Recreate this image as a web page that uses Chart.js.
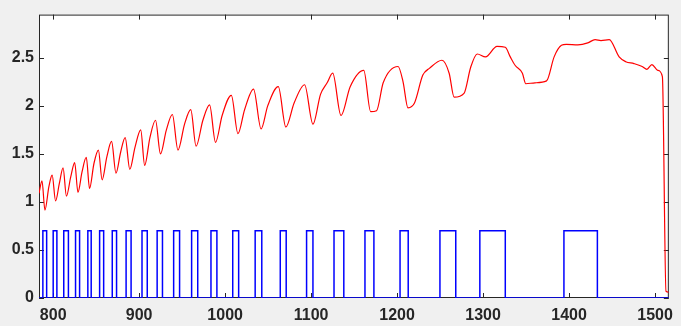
<!DOCTYPE html>
<html>
<head>
<meta charset="utf-8">
<script src="https://cdn.jsdelivr.net/npm/chart.js@4"></script>
<style>
  html, body { margin: 0; padding: 0; background: #f0f0f0; }
  canvas { display: block; }
</style>
</head>
<body>
<canvas id="chart" width="681" height="326"></canvas>
<script>
const xTickValues = [800, 900, 1000, 1100, 1200, 1300, 1400, 1500];
const xTickLabels = ["800", "900", "1000", "1100", "1200", "1300", "1400", "1500"];
const yTickValues = [0, 0.5, 1, 1.5, 2, 2.5];
const yTickLabels = ["0", "0.5", "1", "1.5", "2", "2.5"];

// red trace
const redX = [783.5, 787.0, 790.4, 795.0, 798.8, 802.8, 807.1, 811.5, 815.4, 820.4,
  825.0, 828.8, 833.6, 838.5, 842.3, 847.4, 852.6, 856.9, 862.4, 867.9,
  873.0, 878.5, 883.7, 889.1, 895.2, 901.8, 906.4, 912.5, 919.0, 924.8,
  931.5, 938.6, 945.1, 952.8, 960.0, 966.2, 974.1, 981.9, 988.8, 996.5,
  1007.2, 1014.9, 1022.6, 1033.0, 1041.8, 1049.5, 1061.8, 1070.6, 1080.2, 1092.4,
  1102.1, 1110.9, 1118.6, 1125.1, 1134.7, 1145.4, 1161.2, 1169.2, 1176.1, 1183.8,
  1201.1, 1206.9, 1212.6, 1220.2, 1229.9, 1237.5, 1252.1, 1260.5, 1266.3, 1277.8,
  1285.5, 1293.2, 1302.8, 1316.2, 1325.8, 1331.6, 1337.4, 1345.7, 1349.6, 1360.3,
  1373.8, 1382.6, 1391.1, 1396.8, 1410.2, 1421.7, 1430.2, 1437.1, 1446.7, 1458.2,
  1465.9, 1475.4, 1485.0, 1490.5, 1496.3, 1503.1, 1508.5, 1512.7, 1515.8];
const redY = [1.09, 1.22, 0.915, 1.16, 1.28, 1.01, 1.19, 1.355, 1.06, 1.26,
  1.41, 1.10, 1.315, 1.465, 1.14, 1.40, 1.54, 1.23, 1.47, 1.63,
  1.30, 1.52, 1.67, 1.34, 1.57, 1.75, 1.38, 1.67, 1.85, 1.50,
  1.745, 1.91, 1.54, 1.81, 1.96, 1.58, 1.85, 2.01, 1.62, 1.90,
  2.11, 1.71, 1.96, 2.175, 1.76, 2.00, 2.20, 1.78, 2.03, 2.22,
  1.81, 2.12, 2.24, 2.34, 1.90, 2.20, 2.37, 1.94, 1.95, 2.24,
  2.41, 2.25, 1.98, 2.03, 2.32, 2.39, 2.475, 2.34, 2.09, 2.13,
  2.40, 2.54, 2.51, 2.62, 2.61, 2.51, 2.42, 2.34, 2.23, 2.24,
  2.26, 2.51, 2.63, 2.64, 2.635, 2.655, 2.69, 2.68, 2.69, 2.51,
  2.46, 2.44, 2.41, 2.38, 2.43, 2.37, 2.305, 0.07, 0.06];

// blue pulse train
const pulseOn = [788, 800, 812.3, 826, 840.3, 854, 868.7, 884.8, 903.3, 920.9,
  940.1, 961, 983.5, 1008.8, 1034.9, 1064.1, 1094.7, 1126.6, 1162.6, 1203.4,
  1249.8, 1296.2, 1394];
const pulseOff = [792.4, 804.3, 817.7, 830.7, 844.2, 858.7, 873.7, 890.6, 909.4, 927.1,
  947, 968.1, 990.4, 1015.7, 1042.6, 1071, 1102.1, 1138, 1173, 1212.9,
  1268.2, 1325.8, 1432.9];
const pulseLevel = 0.7;
const xMin = 783.5, xMax = 1516, yMin = 0, yMax = 2.95;

const redData = redX.map((x, i) => ({ x: x, y: redY[i] }));
const blueData = [{ x: xMin, y: 0 }];
pulseOn.forEach((on, i) => {
  blueData.push({ x: on, y: 0 }, { x: on, y: pulseLevel },
    { x: pulseOff[i], y: pulseLevel }, { x: pulseOff[i], y: 0 });
});
blueData.push({ x: xMax, y: 0 });

const axisColor = "#262626";

// grey figure, white axes, box with inward ticks
const boxPlugin = {
  id: "box",
  beforeDraw(chart) {
    const { ctx, chartArea: a } = chart;
    ctx.save();
    ctx.fillStyle = "#f0f0f0";
    ctx.fillRect(0, 0, chart.width, chart.height);
    ctx.fillStyle = "#ffffff";
    ctx.fillRect(a.left, a.top, a.right - a.left, a.bottom - a.top);
    ctx.restore();
  },
  beforeDatasetsDraw(chart) {
    const { ctx, chartArea: a, scales } = chart;
    const len = 5;
    ctx.save();
    ctx.strokeStyle = axisColor;
    ctx.lineWidth = 1;
    ctx.strokeRect(a.left + 0.5, a.top + 0.5, a.right - a.left - 1, a.bottom - a.top - 1);
    ctx.beginPath();
    xTickValues.forEach((v) => {
      const px = Math.round(scales.x.getPixelForValue(v)) + 0.5;
      ctx.moveTo(px, a.bottom); ctx.lineTo(px, a.bottom - len);
      ctx.moveTo(px, a.top); ctx.lineTo(px, a.top + len);
    });
    yTickValues.forEach((v) => {
      const py = Math.round(scales.y.getPixelForValue(v)) + 0.5;
      ctx.moveTo(a.left, py); ctx.lineTo(a.left + len, py);
      ctx.moveTo(a.right, py); ctx.lineTo(a.right - len, py);
    });
    ctx.stroke();
    ctx.restore();
  },
};

const tickFont = { family: "'Liberation Sans', Arial, sans-serif", size: 16, weight: "bold" };

new Chart(document.getElementById("chart").getContext("2d"), {
  type: "line",
  data: {
    datasets: [
      {
        data: redData,
        borderColor: "#ff0000",
        borderWidth: 1.2,
        pointRadius: 0,
        cubicInterpolationMode: "monotone",
        fill: false,
      },
      {
        data: blueData,
        borderColor: "#0000ff",
        borderWidth: 1.5,
        pointRadius: 0,
        tension: 0,
        fill: false,
      },
    ],
  },
  options: {
    responsive: false,
    animation: false,
    layout: { padding: { top: 11, right: 6, left: 0, bottom: 0 } },
    plugins: {
      legend: { display: false },
      tooltip: { enabled: false },
    },
    scales: {
      x: {
        type: "linear",
        min: xMin,
        max: xMax,
        afterBuildTicks: (s) => { s.ticks = xTickValues.map((v) => ({ value: v })); },
        afterFit: (s) => { s.height = 28; },
        grid: { display: false, drawTicks: false },
        border: { display: false },
        ticks: {
          color: axisColor, font: tickFont, padding: 8, maxRotation: 0,
          callback: (v) => xTickLabels[xTickValues.indexOf(v)],
        },
      },
      y: {
        type: "linear",
        min: yMin,
        max: yMax,
        afterBuildTicks: (s) => { s.ticks = yTickValues.map((v) => ({ value: v })); },
        afterFit: (s) => { s.width = 39; },
        grid: { display: false, drawTicks: false },
        border: { display: false },
        ticks: {
          color: axisColor, font: tickFont, padding: 5,
          callback: (v) => yTickLabels[yTickValues.indexOf(v)],
        },
      },
    },
  },
  plugins: [boxPlugin],
});
</script>
</body>
</html>
